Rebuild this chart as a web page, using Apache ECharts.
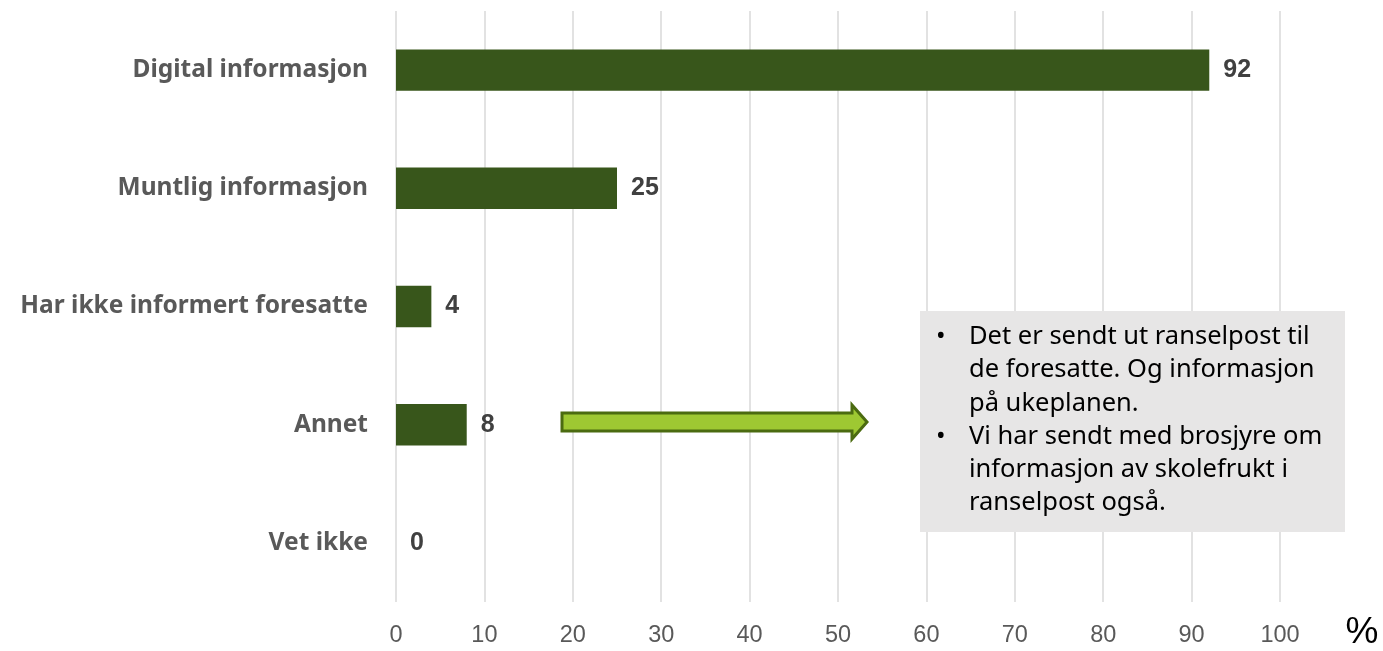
<!DOCTYPE html>
<html>
<head>
<meta charset="utf-8">
<script src="https://cdn.jsdelivr.net/npm/echarts@6/dist/echarts.min.js"></script>
<style>
  html, body { margin: 0; padding: 0; background: #fff; }
  #chart { width: 1383px; height: 651px; }
</style>
</head>
<body>
<div id="chart"></div>
<script>
// categories, top to bottom
var categories = [
  "Digital informasjon",
  "Muntlig informasjon",
  "Har ikke informert foresatte",
  "Annet",
  "Vet ikke"
];
var values = [92, 25, 4, 8, 0];
var axisMin = 0;
var axisMax = 100;
var axisStep = 10;
var noteLines = [
  "Det er sendt ut ranselpost til",
  "de foresatte. Og informasjon",
  "på ukeplanen.",
  "Vi har sendt med brosjyre om",
  "informasjon av skolefrukt i",
  "ranselpost også."
];
var bulletRows = [0, 3];

var chart = echarts.init(document.getElementById("chart"));

var noteFont = "25.5px 'Noto Sans'";
var noteText = [];
noteLines.forEach(function (line, i) {
  noteText.push({
    type: "text",
    z: 110,
    x: 969,
    y: 337 + i * 33.2,
    style: { text: line, fill: "#000", font: noteFont, verticalAlign: "middle" }
  });
  if (bulletRows.indexOf(i) >= 0) {
    noteText.push({
      type: "text",
      z: 110,
      x: 936,
      y: 337 + i * 33.2,
      style: { text: "•", fill: "#000", font: noteFont, verticalAlign: "middle" }
    });
  }
});

var option = {
  animation: false,
  grid: { left: 396, right: 103, top: 11, bottom: 49 },
  xAxis: {
    type: "value",
    min: axisMin,
    max: axisMax,
    interval: axisStep,
    axisLine: { show: false },
    axisTick: { show: false },
    axisLabel: {
      margin: 22,
      color: "#595959",
      fontSize: 23.5,
      fontFamily: "Liberation Sans"
    },
    splitLine: { show: true, lineStyle: { color: "#d9d9d9", width: 1.5 } }
  },
  yAxis: {
    type: "category",
    inverse: true,
    data: categories,
    axisLine: { show: false },
    axisTick: { show: false },
    axisLabel: {
      margin: 28,
      color: "#595959",
      fontSize: 24.5,
      fontWeight: "bold",
      fontFamily: "Noto Sans"
    }
  },
  series: [
    {
      type: "bar",
      data: values,
      barCategoryGap: "65%",
      itemStyle: { color: "#38561b" },
      label: {
        show: true,
        position: "right",
        distance: 14,
        color: "#404040",
        fontSize: 25,
        fontWeight: "bold",
        fontFamily: "Liberation Sans"
      }
    }
  ],
  graphic: [
    {
      type: "polygon",
      z: 100,
      shape: {
        points: [
          [562, 413], [852, 413], [852, 405], [867, 422],
          [852, 439], [852, 431], [562, 431]
        ]
      },
      style: { fill: "#9ec832", stroke: "#4b6b10", lineWidth: 3 }
    },
    {
      type: "rect",
      z: 100,
      shape: { x: 920, y: 311, width: 425, height: 221 },
      style: { fill: "#e7e6e6" }
    },
    {
      type: "text",
      z: 100,
      x: 1362,
      y: 633,
      style: {
        text: "%", fill: "#000", font: "37px 'Liberation Sans'",
        align: "center", verticalAlign: "middle"
      }
    }
  ].concat(noteText)
};

chart.setOption(option);
</script>
</body>
</html>
